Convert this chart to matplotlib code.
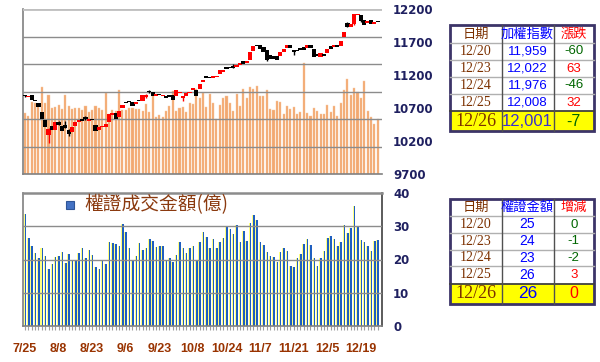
import matplotlib
matplotlib.use('Agg')
import matplotlib.pyplot as plt
from matplotlib.patches import Rectangle
import numpy as np

plt.rcParams['font.family'] = ['Noto Sans CJK TC', 'DejaVu Sans']

# ---------------- data ----------------
opens = [10889, 10864, 10899, 10823, 10772, 10645, 10523, 10290, 10422, 10366,
         10488, 10432, 10442, 10371, 10341, 10422, 10483, 10534, 10559, 10508,
         10540, 10447, 10367, 10406, 10417, 10493, 10600, 10630, 10559, 10700,
         10798, 10813, 10798, 10763, 10828, 10813, 10864, 10955, 10950, 10889,
         10915, 10879, 10889, 10904, 10899, 10889, 10930, 10854, 10889, 10920,
         10966, 10976, 10992, 11088, 11185, 11170, 11159, 11165, 11209, 11250,
         11320, 11321, 11336, 11321, 11345, 11405, 11382, 11433, 11564, 11662,
         11651, 11625, 11575, 11499, 11484, 11484, 11484, 11549, 11610, 11662,
         11575, 11586, 11610, 11625, 11616, 11647, 11601, 11514, 11473, 11525,
         11534, 11636, 11626, 11651, 11636, 11769, 11982, 11930, 11971, 12109,
         12109, 12030, 11985, 12030, 11980, 12015]
closes = [10879, 10879, 10823, 10803, 10711, 10534, 10407, 10381, 10371, 10483,
          10447, 10346, 10402, 10305, 10417, 10483, 10523, 10508, 10529, 10534,
          10520, 10346, 10417, 10432, 10458, 10610, 10630, 10534, 10650, 10748,
          10772, 10787, 10737, 10793, 10803, 10894, 10899, 10935, 10879, 10915,
          10894, 10904, 10854, 10874, 10823, 10976, 10950, 10879, 10925, 10935,
          11010, 10889, 11068, 11125, 11150, 11155, 11179, 11185, 11270, 11275,
          11296, 11300, 11311, 11357, 11380, 11365, 11407, 11549, 11636, 11636,
          11601, 11549, 11423, 11449, 11449, 11433, 11549, 11601, 11662, 11616,
          11549, 11564, 11575, 11586, 11657, 11616, 11473, 11484, 11539, 11484,
          11601, 11601, 11651, 11626, 11717, 11854, 11930, 11971, 12124, 12124,
          12019, 11959, 12022, 11976, 12008, 12001]
# notable shadows: bar index -> (high, low)
wick_idx = [0, 7, 10, 12, 13, 18, 36, 37, 47, 62, 72, 80, 96, 98, 100]
wick_high = [10900, 10390, 10508, 10498, 10380, 10579, 10905, 10976, 10885, 11362,
             11580, 11580, 12003, 12130, 12115]
wick_low = [10860, 10163, 10440, 10395, 10269, 10520, 10855, 10930, 10813, 11305,
            11410, 11500, 11925, 11965, 12010]

volumes = [1102, 1048, 1312, 1294, 1234, 1589, 1282, 1445, 1192, 1216,
           1252, 1186, 1445, 1228, 1186, 1198, 1198, 1156, 1228, 1120,
           1156, 1228, 1198, 1168, 1469, 1084, 1156, 1138, 1535, 1168,
           1168, 1198, 1198, 1186, 1184, 1153, 1281, 1135, 1414, 1044,
           1074, 1044, 1153, 1244, 1518, 1153, 1208, 1226, 1135, 1299,
           1281, 1548, 1384, 1469, 1226, 1457, 1300, 1002, 1263, 1384,
           1420, 1299, 1153, 1457, 1232, 1548, 1378, 1578, 1554, 1602,
           1422, 1422, 1525, 1186, 1156, 1319, 1301, 1095, 1228, 1180,
           1222, 1089, 1119, 2021, 1101, 1053, 1198, 1137, 1089, 1089,
           1246, 1125, 1234, 1047, 1283, 1525, 1724, 1434, 1555, 1494,
           1373, 1700, 1143, 1029, 907, 1004]

warrants = [33.6, 26.6, 24.2, 22.0, 20.6, 23.6, 21.0, 17.1, 18.6, 20.9,
            21.2, 22.4, 18.8, 21.7, 19.5, 19.4, 22.1, 23.5, 20.6, 23.0,
            21.4, 17.8, 17.0, 19.4, 18.7, 25.3, 25.0, 24.8, 24.0, 30.7,
            28.3, 23.5, 19.8, 21.2, 24.9, 23.0, 23.5, 26.3, 25.6, 23.7,
            24.1, 24.2, 19.8, 20.5, 19.3, 21.4, 25.2, 23.5, 22.0, 23.5,
            24.2, 19.8, 25.4, 28.3, 26.9, 23.4, 26.3, 23.6, 25.3, 26.5,
            29.9, 29.3, 27.7, 30.3, 25.3, 28.5, 25.7, 31.0, 33.5, 32.0,
            25.4, 24.5, 22.3, 21.0, 20.8, 19.2, 22.3, 23.5, 22.7, 18.1,
            17.8, 20.5, 21.7, 24.8, 26.3, 24.5, 20.5, 18.1, 20.5, 22.7,
            26.5, 27.2, 26.3, 24.0, 25.4, 30.5, 28.1, 29.5, 36.0, 29.9,
            25.9, 25.4, 24.2, 22.7, 25.6, 25.9]

date_labels = ['7/25', '8/8', '8/23', '9/6', '9/23', '10/8', '10/24',
               '11/7', '11/21', '12/5', '12/19']
date_label_idx = [0, 10, 20, 30, 40, 50, 60, 70, 80, 90, 100]
price_ticks = [9700, 10200, 10700, 11200, 11700, 12200]
volume_grid = [0, 500, 1000, 1500, 2000, 2500, 3000]
amount_ticks = [0, 10, 20, 30, 40]

legend_label = '權證成交金額(億)'

t1_headers = ['日期', '加權指數', '漲跌']
t1_dates = ['12/20', '12/23', '12/24', '12/25', '12/26']
t1_index = ['11,959', '12,022', '11,976', '12,008', '12,001']
t1_change = ['-60', '63', '-46', '32', '-7']
t1_change_colors = ['#006600', '#FF0000', '#006600', '#FF0000', '#006600']

t2_headers = ['日期', '權證金額', '增減']
t2_dates = ['12/20', '12/23', '12/24', '12/25', '12/26']
t2_amount = ['25', '24', '23', '26', '26']
t2_change = ['0', '-1', '-2', '3', '0']
t2_change_colors = ['#006600', '#006600', '#006600', '#FF0000', '#FF0000']

# ---------------- figure ----------------
W, H = 600, 362
fig = plt.figure(figsize=(6.0, 3.62), dpi=100)
fig.patch.set_facecolor('white')

n = len(closes)
idx = np.arange(n)
xlim = (-0.6, 106.3)

navy = '#1F2060'
brown = '#993300'

def px_rect(l, t, r, b):
    return [l / W, 1 - b / H, (r - l) / W, (b - t) / H]

# ---- upper panel: volume (hidden left axis) + candles (right axis)
ax_v = fig.add_axes(px_rect(23, 9, 382, 174))
ax_v.bar(idx, volumes, width=0.62, color='#F2A870', edgecolor='#F8C8A0',
         linewidth=0.3, zorder=2)
for g in volume_grid[1:-1]:
    ax_v.axhline(g, color='#8C8C8C', lw=1.0, zorder=3)
ax_v.axhline(volume_grid[-1], color='#BFBFBF', lw=2.0, zorder=3)
ax_v.set_ylim(volume_grid[0], volume_grid[-1])
ax_v.set_xlim(*xlim)
ax_v.set_yticks([])
ax_v.set_xticks([])
for s in ['top', 'right']:
    ax_v.spines[s].set_visible(False)
for s in ['left', 'bottom']:
    ax_v.spines[s].set_color('#808080')
    ax_v.spines[s].set_linewidth(1.2)

ax_p = ax_v.twinx()
ax_p.set_ylim(price_ticks[0], price_ticks[-1])
ax_p.set_xlim(*xlim)
opens_a = np.array(opens, dtype=float)
closes_a = np.array(closes, dtype=float)
up = closes_a >= opens_a
cols = np.where(up, '#FF0000', '#000000')
wcols = ['#FF0000' if closes[i] >= opens[i] else '#000000' for i in wick_idx]
ax_p.vlines(wick_idx, wick_low, wick_high, colors=wcols, lw=1.0, zorder=4)
bottoms = np.minimum(opens_a, closes_a)
heights = np.maximum(np.abs(closes_a - opens_a), 20)
ax_p.bar(idx, heights, bottom=bottoms, width=1.25, color=cols, zorder=5)
ax_p.set_yticks(price_ticks)
ax_p.set_yticklabels([str(t) for t in price_ticks])
ax_p.tick_params(axis='y', length=0, pad=8, labelsize=8.5, labelcolor=navy)
for lab in ax_p.get_yticklabels():
    lab.set_fontweight('bold')
    lab.set_family('DejaVu Sans')
for s in ax_p.spines.values():
    s.set_visible(False)

# ---- lower panel: warrant turnover
ax_w = fig.add_axes(px_rect(23, 193, 382, 326))
ax_w.bar(idx - 0.14, warrants, width=0.5, color='#FFFF80', zorder=2)
ax_w.bar(idx + 0.14, warrants, width=0.46, color='#1F5FC0', zorder=2)
for g in amount_ticks[1:-1]:
    ax_w.axhline(g, color='#8C8C8C', lw=1.0, zorder=3)
ax_w.set_ylim(amount_ticks[0], amount_ticks[-1])
ax_w.set_xlim(*xlim)
ax_w.yaxis.tick_right()
ax_w.set_yticks(amount_ticks)
ax_w.set_yticklabels([str(t) for t in amount_ticks])
ax_w.tick_params(axis='y', length=0, pad=8, labelsize=8.5, labelcolor=navy)
for lab in ax_w.get_yticklabels():
    lab.set_fontweight('bold')
    lab.set_family('DejaVu Sans')
ax_w.set_xticks(date_label_idx)
ax_w.set_xticklabels(date_labels)
ax_w.set_xticks(idx, minor=True)
ax_w.tick_params(axis='x', which='both', length=3, color='#A0A0A0', width=0.8,
                 direction='out')
ax_w.tick_params(axis='x', which='major', pad=9, labelsize=9, labelcolor=brown)
for lab in ax_w.get_xticklabels():
    lab.set_fontweight('bold')
    lab.set_family('Liberation Sans')
ax_w.spines['top'].set_color('#8C8C8C')
ax_w.spines['top'].set_linewidth(1.8)
ax_w.spines['right'].set_color('#404040')
ax_w.spines['right'].set_linewidth(1.2)
for s in ['left', 'bottom']:
    ax_w.spines[s].set_color('#808080')
    ax_w.spines[s].set_linewidth(1.2)

# ---- overlay in pixel coordinates: legend and tables
ov = fig.add_axes([0, 0, 1, 1], facecolor='none')
ov.set_xlim(0, W)
ov.set_ylim(H, 0)
ov.axis('off')

ov.add_patch(Rectangle((66, 201), 8, 8, facecolor='#4472C4',
                       edgecolor='#2F5597', lw=0.8))
ov.text(84, 205, legend_label, fontsize=13.5, color='#8B3A0F',
        va='center', ha='left', family=['Noto Sans CJK TC', 'DejaVu Sans'])


def draw_table(row_y, headers, header_colors, dates, mids, mid_color,
               mid_last_color, changes, change_colors, mid_size):
    xs = [449.5, 501.5, 553.5, 594]
    left, right = xs[0], xs[-1]
    top, bottom = row_y[0], row_y[-1]
    ov.add_patch(Rectangle((left, row_y[-2]), right - left,
                           row_y[-1] - row_y[-2], facecolor='#FFFF00',
                           edgecolor='none'))
    for y in row_y[1:-2]:
        ov.plot([left, right], [y, y], color='#B0B0B0', lw=1.0)
    ov.plot([left, right], [row_y[-2], row_y[-2]], color='#404040', lw=1.3)
    for x in xs[1:-1]:
        ov.plot([x, x], [top, bottom], color='#505050', lw=1.0)
    ov.add_patch(Rectangle((left, top), right - left, bottom - top,
                           facecolor='none', edgecolor='#3C3468', lw=2.0))
    centers = [(xs[i] + xs[i + 1]) / 2 for i in range(3)]
    yc = (row_y[0] + row_y[1]) / 2
    for c, h, hc in zip(centers, headers, header_colors):
        ov.text(c, yc, h, ha='center', va='center', fontsize=9.5, color=hc,
                family=['Noto Sans CJK TC', 'DejaVu Sans'])
    nr = len(dates)
    for r in range(nr):
        y = (row_y[r + 1] + row_y[r + 2]) / 2
        last = r == nr - 1
        ov.text(centers[0], y, dates[r], ha='center', va='center',
                fontsize=13 if last else 10, color='#7B3000',
                family='Liberation Serif')
        ov.text(centers[1], y, mids[r], ha='center', va='center',
                fontsize=mid_size + (2.5 if last else 0),
                color=mid_last_color if last else mid_color,
                family='Liberation Sans')
        ov.text(centers[2], y, changes[r], ha='center', va='center',
                fontsize=11.5 if last else 9.5, color=change_colors[r],
                family='Liberation Sans')


draw_table([25, 43, 60, 77, 94, 111, 131], t1_headers,
           ['#7B3000', '#0000FF', '#FF0000'], t1_dates, t1_index,
           '#0000FF', '#3A2FD0', t1_change, t1_change_colors, 9.5)
draw_table([199, 216, 233, 249.5, 266, 283.5, 303.5], t2_headers,
           ['#7B3000', '#0000FF', '#FF0000'], t2_dates, t2_amount,
           '#0000FF', '#0000FF', t2_change, t2_change_colors, 10)

fig.savefig('out.png', dpi=100, facecolor='white')
